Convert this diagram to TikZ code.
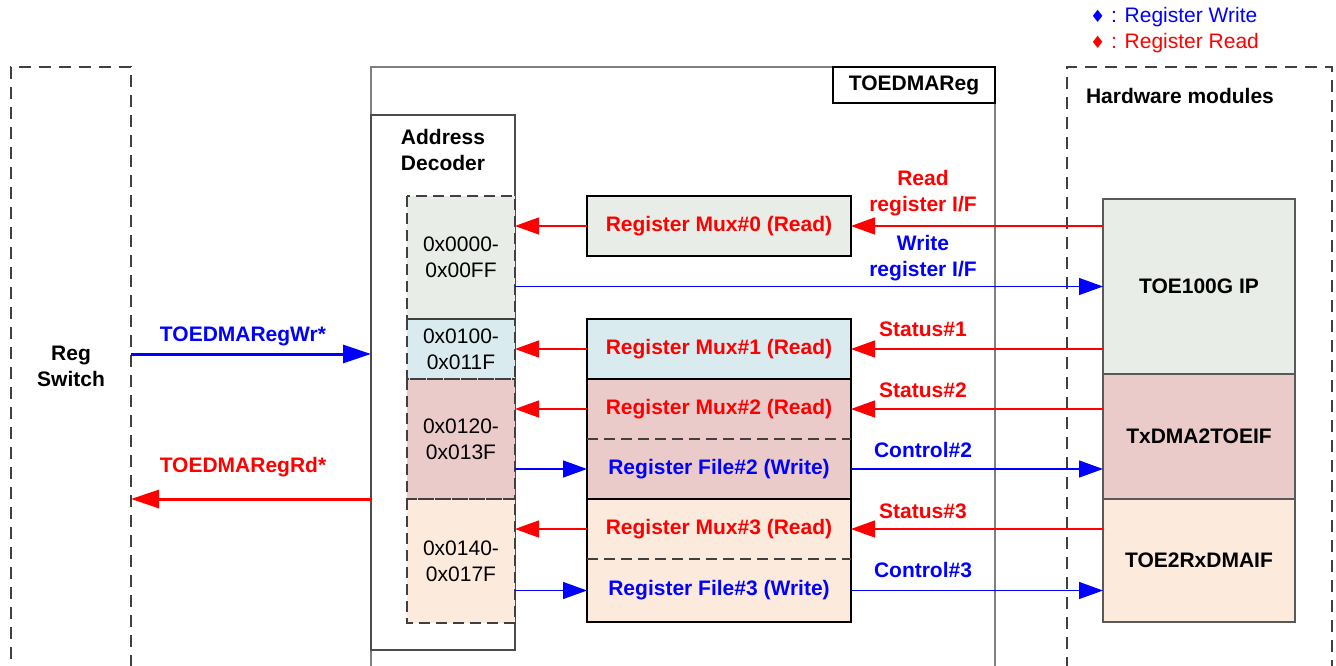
\documentclass[tikz,border=0pt]{standalone}
\usepackage{fontspec}
\setmainfont{Liberation Sans}
\newfontfamily\symfont{DejaVu Sans}
\usetikzlibrary{arrows.meta,positioning,calc}
\definecolor{ipgray}{HTML}{E9EDE7}
\definecolor{muxblue}{HTML}{DAEBF0}
\definecolor{muxpink}{HTML}{EBCACA}
\definecolor{muxpeach}{HTML}{FCEADC}
\definecolor{dashgray}{HTML}{404040}
\definecolor{framegray}{HTML}{7F7F7F}
\tikzset{
  every node/.style={font=\fontsize{21}{26}\selectfont, inner sep=0pt, outer sep=0pt},
  bold/.style={font=\fontsize{21}{26}\selectfont\bfseries},
  dashframe/.style={rectangle, anchor=north west, draw=dashgray, line width=2.2pt,
                    dash pattern=on 12pt off 8pt, minimum height=660pt},
  frame/.style={rectangle, anchor=north west, draw=framegray, line width=1.5pt},
  titlebox/.style={rectangle, draw=black, line width=1.3pt, fill=white,
                   minimum width=162pt, minimum height=36pt, bold},
  seg/.style={rectangle, anchor=north west, minimum width=108pt, align=center},
  regbox/.style={rectangle, anchor=north west, minimum width=264pt,
                 minimum height=60pt, bold},
  hwbox/.style={rectangle, anchor=north west, draw=black!65, line width=1.3pt,
                minimum width=192pt, bold},
  wrline/.style={draw=blue, line width=1.3pt, -{Triangle[length=24pt,width=17pt]}},
  rdline/.style={draw=red, line width=1.3pt, -{Triangle[length=24pt,width=17pt]}},
  bigwr/.style={draw=blue, line width=3pt, -{Triangle[length=28pt,width=18pt]}},
  bigrd/.style={draw=red, line width=3pt, -{Triangle[length=28pt,width=18pt]}},
  divider/.style={draw=dashgray, line width=2.4pt, dash pattern=on 11pt off 6pt}
}

\begin{document}
\begin{tikzpicture}[x=1pt,y=-1pt]
  \useasboundingbox (0,0) rectangle (1336,666);

  % Legend.
  \node[anchor=west, text=blue] (lgwr) at (1090,17)
    {{\symfont\fontsize{17}{17}\selectfont ♦} : Register Write};
  \node[anchor=west, text=red] (lgrd) at (1090,43)
    {{\symfont\fontsize{17}{17}\selectfont ♦} : Register Read};

  % Draw the outer frames.
  \node[dashframe, minimum width=120pt] (regsw) at (11,67) {};
  \node[bold, align=center] (regswlbl) at (71,366) {Reg\\Switch};
  \node[frame, minimum width=624pt, minimum height=660pt] (dmareg) at (371,67) {};
  \node[titlebox, anchor=north east] (dmatitle) at (dmareg.north east) {TOEDMAReg};
  \node[dashframe, minimum width=265pt] (hwmod) at (1067,67) {};
  \node[bold, anchor=west] (hwlbl) at (1086,96) {Hardware modules};

  % Address decoder and its address ranges.
  \node[frame, draw=black!70, minimum width=144pt, minimum height=535pt] (adec) at (371,115) {};
  \node[bold, align=center] (adeclbl) at (443,150) {Address\\Decoder};
  \node[seg, fill=ipgray, minimum height=123pt] (seg0) at (407,196) {0x0000-\\0x00FF};
  \node[seg, fill=muxblue, minimum height=60pt] (seg1) at (407,319) {0x0100-\\0x011F};
  \node[seg, fill=muxpink, minimum height=120pt] (seg2) at (407,379) {0x0120-\\0x013F};
  \node[seg, fill=muxpeach, minimum height=124pt] (seg3) at (407,499) {0x0140-\\0x017F};
  \foreach \s in {seg0,seg1,seg2,seg3}
    \draw[divider] (\s.north west) rectangle (\s.south east);

  % Register muxes and register files.
  \node[regbox, fill=ipgray, draw, line width=1.3pt, text=red] (mux0) at (587,196) {Register Mux\#0 (Read)};
  \node[regbox, fill=muxblue, draw, line width=1.3pt, text=red] (mux1) at (587,319) {Register Mux\#1 (Read)};
  \node[regbox, fill=muxpink, text=red] (mux2) at (587,379) {Register Mux\#2 (Read)};
  \node[regbox, fill=muxpink, text=blue] (file2) at (587,439) {Register File\#2 (Write)};
  \node[regbox, fill=muxpeach, text=red] (mux3) at (587,499) {Register Mux\#3 (Read)};
  \node[regbox, fill=muxpeach, text=blue, minimum height=63pt] (file3) at (587,559) {Register File\#3 (Write)};
  \draw[line width=1.3pt] (mux2.north west) rectangle (file2.south east);
  \draw[line width=1.3pt] (mux3.north west) rectangle (file3.south east);
  \draw[divider] (mux2.south west) -- (mux2.south east);
  \draw[divider] (mux3.south west) -- (mux3.south east);

  % Hardware modules.
  \node[hwbox, fill=ipgray, minimum height=175pt] (toeip) at (1103,199) {TOE100G IP};
  \node[hwbox, fill=muxpink, minimum height=125pt] (txdma) at (1103,374) {TxDMA2TOEIF};
  \node[hwbox, fill=muxpeach, minimum height=123pt] (rxdma) at (1103,499) {TOE2RxDMAIF};

  % Reg switch interface.
  \coordinate (wrend) at (371,354);
  \draw[bigwr] (wrend -| regsw.east) -- (wrend);
  \node[bold, text=blue] (wrlbl) at (243,336) {TOEDMARegWr*};
  \draw[bigrd] (adec.west |- seg3.north) -- (regsw.east |- seg3.north);
  \node[bold, text=red] (rdlbl) at (243,467) {TOEDMARegRd*};

  % Decoder side connections.
  \draw[rdline] (mux0.west) -- (mux0.west -| seg0.east);
  \draw[wrline] (toeip.west -| seg0.east) -- (toeip.west);
  \draw[rdline] (mux1.west) -- (mux1.west -| seg1.east);
  \draw[rdline] (mux2.west) -- (mux2.west -| seg2.east);
  \draw[wrline] (file2.west -| seg2.east) -- (file2.west);
  \draw[rdline] (mux3.west) -- (mux3.west -| seg3.east);
  \draw[wrline] (file3.west -| seg3.east) -- (file3.west);

  % Hardware side connections.
  \draw[rdline] (mux0.east -| toeip.west) -- (mux0.east);
  \draw[rdline] (mux1.east -| toeip.west) -- (mux1.east);
  \draw[rdline] (mux2.east -| txdma.west) -- (mux2.east);
  \draw[wrline] (file2.east) -- (file2.east -| txdma.west);
  \draw[rdline] (mux3.east -| rxdma.west) -- (mux3.east);
  \draw[wrline] (file3.east) -- (file3.east -| rxdma.west);

  % Labels of the hardware side connections.
  \node[bold, text=red, align=center] (rdiflbl) at (923,193) {Read\\register I/F};
  \node[bold, text=blue, align=center] (wriflbl) at (923,258) {Write\\register I/F};
  \node[bold, text=red] (st1lbl) at (923,329) {Status\#1};
  \node[bold, text=red] (st2lbl) at (923,390) {Status\#2};
  \node[bold, text=blue] (ct2lbl) at (923,450) {Control\#2};
  \node[bold, text=red] (st3lbl) at (923,511) {Status\#3};
  \node[bold, text=blue] (ct3lbl) at (923,570) {Control\#3};
\end{tikzpicture}
\end{document}
